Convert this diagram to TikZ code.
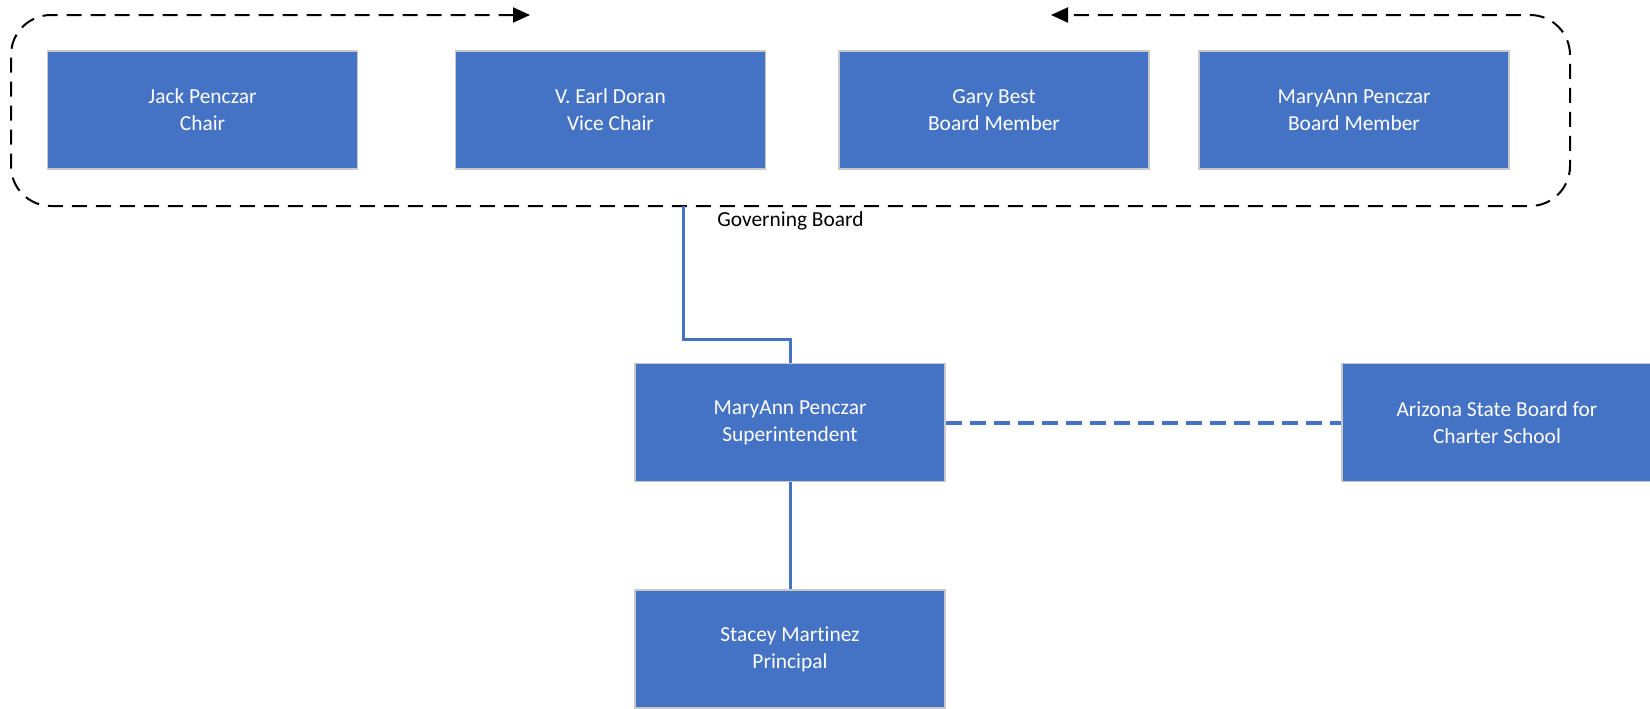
\documentclass[tikz,border=0pt]{standalone}
\usepackage{fontspec}
\setmainfont[Ligatures=NoCommon]{Carlito}
\usepackage{tikz}
\usepackage{xcolor}
\usetikzlibrary{arrows.meta}

\definecolor{boxblue}{HTML}{4472C4}
\definecolor{boxedge}{HTML}{C8C8C8}

\begin{document}
\begin{tikzpicture}[x=0.5pt, y=-0.5pt,
    box/.style={rectangle, draw=boxedge, line width=0.6pt, fill=boxblue, text=white, minimum width=155pt, minimum height=59pt, align=center, font=\fontsize{10.7}{13.5}\selectfont},
    orgline/.style={draw=boxblue, line width=1.5pt},
    linkline/.style={draw=boxblue, line width=2pt, dash pattern=on 8pt off 4pt},
    frameline/.style={draw=black, line width=1pt, dash pattern=on 7.5pt off 4.5pt, rounded corners=20pt}]

    \useasboundingbox (0,0) rectangle (1650,708);

    % governing board
    \node[box] (jack) at (202.5,110) {Jack Penczar\\Chair};
    \node[box] (earl) at (610.5,110) {V. Earl Doran\\Vice Chair};
    \node[box] (gary) at (994,110) {Gary Best\\Board Member};
    \node[box] (maryb) at (1354,110) {MaryAnn Penczar\\Board Member};

    \coordinate (tipl) at (530,15);
    \coordinate (tipr) at (1051,15);
    \draw[frameline, {Triangle[length=8.5pt,width=7.5pt]}-{Triangle[length=8.5pt,width=7.5pt]}]
        (tipl) -- (11,15) -- (11,206) -- (1570,206) -- (1570,15) -- (tipr);
    \node[anchor=west, inner sep=0pt, font=\fontsize{10.7}{13.5}\selectfont] (gblabel) at (717,221) {Governing Board};

    % school
    \node[box] (sup) at (790,422.5) {MaryAnn Penczar\\Superintendent};
    \node[box] (azsb) at (1497,422.5) {Arizona State Board for\\Charter School};
    \node[box] (prin) at (790,649) {Stacey Martinez\\Principal};

    \coordinate (gbout) at (683,206);
    \coordinate (bend) at (683,339);
    \draw[orgline] (gbout) -- (bend) -| (sup.north);
    \draw[orgline] (sup) -- (prin);
    \draw[linkline] (sup) -- (azsb);
\end{tikzpicture}
\end{document}
